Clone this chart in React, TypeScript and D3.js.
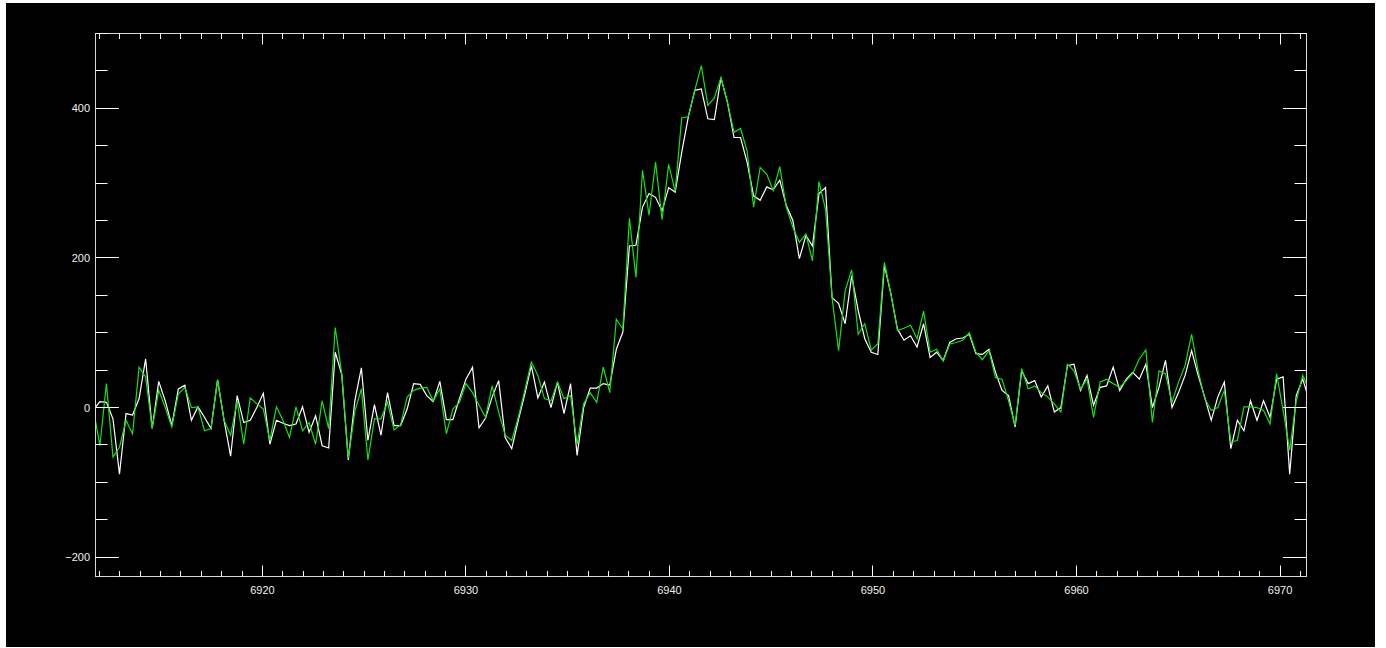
import React from "react";
import * as d3 from "d3";

// Spectrum sampling (wavelength grid)
const WL_START = 6911.694;
const WL_STEP = 0.3212;

// White spectrum values
const whiteFlux: number[] = [
  -3, 8, 7, -15, -89, -8, -10, 12, 65, -28,
  35, 9, -24, 25, 30, -17, 1, -13, -28, 37,
  -17, -65, 16, -20, -17, 0, 19, -49, -17, -21,
  -24, -22, 1, -33, -11, -51, -54, 74, 44, -70,
  9, 53, -44, 4, -37, 20, -24, -24, -2, 32,
  31, 16, 8, 35, -16, -16, 12, 38, 54, -27,
  -14, 14, 36, -40, -55, -17, 18, 56, 13, 34,
  0, 34, -8, 32, -64, 0, 26, 26, 32, 30,
  78, 101, 216, 217, 268, 286, 281, 263, 294, 288,
  341, 388, 424, 426, 386, 385, 441, 408, 361, 361,
  328, 283, 277, 295, 291, 304, 270, 250, 199, 230,
  216, 286, 294, 147, 139, 112, 176, 130, 92, 74,
  71, 190, 152, 105, 90, 96, 81, 112, 67, 74,
  63, 87, 92, 93, 98, 72, 71, 78, 47, 23,
  16, -26, 49, 32, 36, 14, 29, -6, 0, 56,
  58, 23, 43, 3, 27, 29, 54, 23, 38, 47,
  38, 58, 0, 27, 63, 0, 20, 43, 76, 43,
  14, -17, 14, 34, -55, -17, -31, 9, -17, 9,
  -13, 38, 41, -89, 16, 38, 9,
];

// Green spectrum values
const greenFlux: number[] = [
  -2, -51, 32, -66, -53, -17, -35, 54, 41, -28,
  23, 0, -26, 18, 27, 0, 1, -31, -28, 37,
  -17, -37, 9, -49, 13, 5, -2, -44, 1, -17,
  -40, 1, -31, -20, -49, 9, -28, 107, 45, -68,
  -5, 25, -70, -15, -15, 7, -30, -23, 14, 23,
  26, 27, 9, 25, -35, -2, 7, 32, 20, 3,
  -13, 29, -6, -37, -44, -13, 23, 61, 43, 12,
  9, 34, 12, 16, -49, 5, 20, 7, 54, 20,
  118, 105, 253, 174, 317, 257, 328, 251, 325, 289,
  387, 389, 424, 457, 404, 414, 441, 408, 368, 373,
  343, 268, 321, 312, 290, 322, 268, 241, 221, 232,
  196, 302, 265, 147, 76, 156, 184, 98, 112, 77,
  85, 194, 152, 103, 106, 110, 92, 129, 74, 78,
  62, 85, 87, 90, 100, 74, 64, 76, 40, 38,
  9, -24, 52, 25, 29, 20, 14, 5, -6, 58,
  49, 25, 38, -13, 34, 38, 32, 27, 36, 46,
  65, 77, -20, 49, 45, 7, 34, 56, 98, 49,
  12, -4, 0, 23, -46, -44, 1, 1, 0, -4,
  -22, 45, -4, -57, 9, 43, 23,
];

const xTickValues = [6920, 6930, 6940, 6950, 6960, 6970];
const yTickValues = [-200, 0, 200, 400];
const X_DOMAIN: [number, number] = [6911.8, 6971.3];
const Y_DOMAIN: [number, number] = [-225.8, 500];
const X_MINOR_STEP = 1;
const Y_MINOR_STEP = 50;

export default function App() {
  const W = 1386;
  const H = 648;
  const L = 95.5, R = 1306.5, T = 33.5, B = 576.5;

  const x = d3.scaleLinear().domain(X_DOMAIN).range([L, R]);
  const y = d3.scaleLinear().domain(Y_DOMAIN).range([B, T]);

  const wl = whiteFlux.map((_, i) => WL_START + i * WL_STEP);
  const line = d3
    .line<number>()
    .x((_, i) => x(wl[i]))
    .y((d) => y(d));

  const xMinor = d3
    .range(Math.ceil(X_DOMAIN[0]), Math.floor(X_DOMAIN[1]) + 1, X_MINOR_STEP)
    .filter((v) => v % 10 !== 0);
  const yMinor = d3
    .range(-200, Y_DOMAIN[1] + 1, Y_MINOR_STEP)
    .filter((v) => v >= Y_DOMAIN[0] && v <= Y_DOMAIN[1] && v % 200 !== 0);

  const snap = (v: number) => Math.round(v - 0.5) + 0.5;
  const axisColor = "#ffffff";
  const xMaj = 11, xMin = 5.5, yMaj = 23.5, yMin = 12;

  const fmt = (v: number) => (v < 0 ? "\u2212" + Math.abs(v) : String(v));

  return (
    <svg
      width={W}
      height={H}
      style={{ position: "absolute", left: 0, top: 0, display: "block" }}
    >
      <rect x={0} y={0} width={W} height={H} fill="#ffffff" />
      <rect x={6} y={3} width={1369} height={644} fill="#000000" />
      <defs>
        <clipPath id="plotclip">
          <rect x={L} y={T} width={R - L} height={B - T} />
        </clipPath>
      </defs>

      <g clipPath="url(#plotclip)" fill="none" strokeLinejoin="miter">
        <path d={line(whiteFlux) || ""} stroke="#ffffff" strokeWidth={1.2} />
        <path d={line(greenFlux) || ""} stroke="#16e016" strokeWidth={1.2} />
      </g>

      {/* frame */}
      <rect
        x={L}
        y={T}
        width={R - L}
        height={B - T}
        fill="none"
        stroke="#d8d8d8"
        strokeWidth={1}
      />

      {/* x ticks */}
      <g stroke={axisColor} strokeWidth={1}>
        {xTickValues.map((v) => {
          const px = snap(x(v));
          return (
            <g key={"xM" + v}>
              <line x1={px} x2={px} y1={B} y2={B - xMaj} />
              <line x1={px} x2={px} y1={T} y2={T + xMaj} />
            </g>
          );
        })}
        {xMinor.map((v) => {
          const px = snap(x(v));
          return (
            <g key={"xm" + v}>
              <line x1={px} x2={px} y1={B} y2={B - xMin} />
              <line x1={px} x2={px} y1={T} y2={T + xMin} />
            </g>
          );
        })}
        {yTickValues.map((v) => {
          const py = snap(y(v));
          return (
            <g key={"yM" + v}>
              <line x1={L} x2={L + yMaj} y1={py} y2={py} />
              <line x1={R} x2={R - yMaj} y1={py} y2={py} />
            </g>
          );
        })}
        {yMinor.map((v) => {
          const py = snap(y(v));
          return (
            <g key={"ym" + v}>
              <line x1={L} x2={L + yMin} y1={py} y2={py} />
              <line x1={R} x2={R - yMin} y1={py} y2={py} />
            </g>
          );
        })}
      </g>

      {/* labels */}
      <g
        fill="#f0f0f0"
        fontFamily="'Liberation Sans', Arial, sans-serif"
        fontSize={11}
      >
        {xTickValues.map((v) => (
          <text key={"xl" + v} x={x(v)} y={594} textAnchor="middle">
            {fmt(v)}
          </text>
        ))}
        {yTickValues.map((v) => (
          <text key={"yl" + v} x={90} y={y(v) + 4} textAnchor="end">
            {fmt(v)}
          </text>
        ))}
      </g>
    </svg>
  );
}
